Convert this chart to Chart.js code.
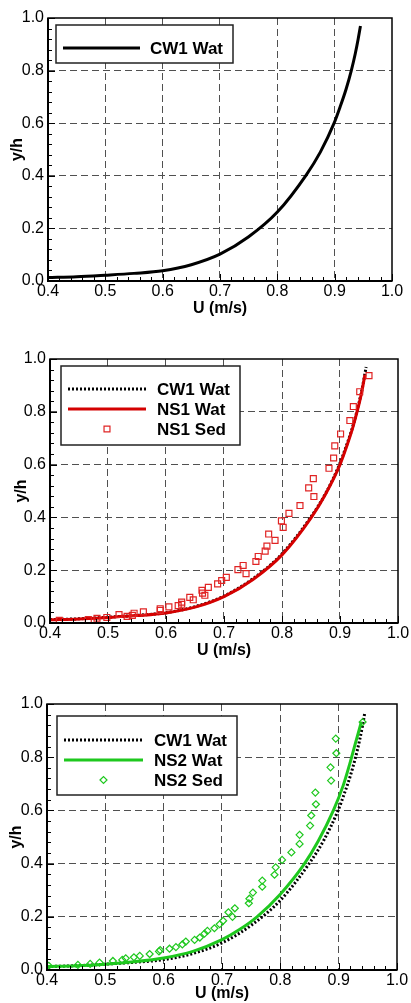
<!DOCTYPE html>
<html>
<head>
<meta charset="utf-8">
<script src="https://cdn.jsdelivr.net/npm/chart.js@4/dist/chart.umd.min.js"></script>
<style>
  html, body { margin: 0; padding: 0; background: #fff; }
  canvas { position: absolute; left: 0; }
</style>
</head>
<body>
<canvas id="grafica1" width="411" height="330" style="top:0px"></canvas>
<canvas id="grafica2" width="411" height="333" style="top:330px"></canvas>
<canvas id="grafica3" width="411" height="340" style="top:663px"></canvas>
<script>
// Datos: U (m/s) contra y/h
const cw1U = [0.400, 0.450, 0.500, 0.550, 0.600, 0.650, 0.700, 0.750, 0.800, 0.850, 0.875, 0.899, 0.910, 0.920, 0.929, 0.936, 0.941, 0.945];
const cw1Y = [0.013, 0.016, 0.022, 0.029, 0.039, 0.062, 0.102, 0.168, 0.262, 0.402, 0.490, 0.600, 0.665, 0.730, 0.800, 0.865, 0.920, 0.970];

const ns1WatU = [0.400, 0.450, 0.500, 0.550, 0.600, 0.650, 0.700, 0.750, 0.800, 0.850, 0.875, 0.900, 0.912, 0.922, 0.930, 0.937, 0.943];
const ns1WatY = [0.012, 0.015, 0.021, 0.028, 0.038, 0.060, 0.100, 0.165, 0.258, 0.398, 0.488, 0.600, 0.672, 0.740, 0.805, 0.870, 0.940];

const ns1SedU = [0.416, 0.466, 0.481, 0.498, 0.519, 0.533, 0.542, 0.545, 0.561, 0.590, 0.590, 0.605, 0.621, 0.627, 0.627, 0.641, 0.647, 0.662, 0.663, 0.667, 0.673, 0.689, 0.696, 0.704, 0.724, 0.733, 0.738, 0.755, 0.759, 0.771, 0.774, 0.777, 0.788, 0.799, 0.802, 0.812, 0.831, 0.846, 0.854, 0.855, 0.881, 0.889, 0.891, 0.901, 0.917, 0.923, 0.934, 0.950];
const ns1SedY = [0.010, 0.013, 0.018, 0.021, 0.032, 0.025, 0.029, 0.037, 0.042, 0.048, 0.054, 0.061, 0.066, 0.071, 0.079, 0.097, 0.088, 0.124, 0.113, 0.105, 0.135, 0.148, 0.161, 0.173, 0.202, 0.218, 0.187, 0.233, 0.252, 0.272, 0.291, 0.337, 0.313, 0.387, 0.362, 0.415, 0.445, 0.512, 0.547, 0.479, 0.586, 0.625, 0.671, 0.716, 0.767, 0.820, 0.876, 0.937];

const ns2WatU = [0.400, 0.450, 0.500, 0.550, 0.600, 0.650, 0.700, 0.730, 0.760, 0.800, 0.840, 0.865, 0.891, 0.908, 0.919, 0.929, 0.939];
const ns2WatY = [0.013, 0.016, 0.022, 0.031, 0.045, 0.070, 0.114, 0.152, 0.200, 0.285, 0.395, 0.485, 0.600, 0.695, 0.775, 0.855, 0.934];

const ns2SedU = [0.403, 0.453, 0.474, 0.490, 0.513, 0.529, 0.535, 0.549, 0.559, 0.576, 0.592, 0.594, 0.610, 0.621, 0.632, 0.638, 0.653, 0.662, 0.670, 0.675, 0.687, 0.696, 0.702, 0.711, 0.718, 0.722, 0.746, 0.747, 0.753, 0.769, 0.769, 0.790, 0.792, 0.803, 0.819, 0.833, 0.833, 0.851, 0.853, 0.861, 0.860, 0.887, 0.886, 0.896, 0.895, 0.941];
const ns2SedY = [0.016, 0.019, 0.023, 0.028, 0.034, 0.038, 0.044, 0.048, 0.053, 0.060, 0.070, 0.075, 0.080, 0.086, 0.096, 0.107, 0.113, 0.122, 0.137, 0.147, 0.157, 0.172, 0.185, 0.217, 0.200, 0.232, 0.251, 0.268, 0.291, 0.313, 0.336, 0.358, 0.386, 0.414, 0.442, 0.474, 0.508, 0.543, 0.581, 0.623, 0.667, 0.712, 0.762, 0.815, 0.870, 0.932];

// Rango de ejes
const xMin = 0.4, xMax = 1.0, xPaso = 0.1;
const yMin = 0.0, yMax = 1.0, yPaso = 0.2;

Chart.defaults.font.family = '"Liberation Sans", Arial, sans-serif';
Chart.defaults.color = '#000';

function puntos(us, ys) {
    return us.map((u, i) => ({ x: u, y: ys[i] }));
}

const colorRejilla = ctx => {
    const v = ctx.tick ? ctx.tick.value : 0;
    const extremo = ctx.scale.axis === 'x'
        ? (v <= xMin + 1e-6 || v >= xMax - 1e-6)
        : (v <= yMin + 1e-6 || v >= yMax - 1e-6);
    return extremo ? 'rgba(0,0,0,0)' : '#505050';
};

// Ejes con rejilla discontinua; el ancho/alto se fija para cuadrar el área de la gráfica
function ejes(anchoY, altoX, padTituloY) {
    return {
        x: {
            type: 'linear', min: xMin, max: xMax,
            ticks: { stepSize: xPaso, padding: 1, maxRotation: 0, autoSkip: false,
                     font: { size: 16 }, callback: v => v.toFixed(1) },
            grid: { drawTicks: false, color: colorRejilla, lineWidth: 1 },
            border: { display: false, dash: [7, 4] },
            title: { display: true, text: 'U (m/s)', font: { size: 16, weight: 'bold' }, padding: 0 },
            afterFit: s => { s.height = altoX; }
        },
        y: {
            type: 'linear', min: yMin, max: yMax,
            ticks: { stepSize: yPaso, padding: 4, font: { size: 16 }, callback: v => v.toFixed(1) },
            grid: { drawTicks: false, color: colorRejilla, lineWidth: 1 },
            border: { display: false, dash: [7, 4] },
            title: { display: true, text: 'y/h', font: { size: 16, weight: 'bold' }, padding: { top: padTituloY, bottom: 0 } },
            afterFit: s => { s.width = anchoY; }
        }
    };
}

// Marco y marcas menores hacia dentro (izquierda y abajo)
const marco = {
    id: 'marco',
    afterDraw(chart) {
        const { ctx, chartArea: a, scales: { x, y } } = chart;
        ctx.save();
        ctx.strokeStyle = '#000';
        ctx.lineWidth = 1;
        ctx.beginPath();
        for (let i = 0; i <= 30; i++) {
            const px = Math.round(x.getPixelForValue(xMin + i * 0.02)) + 0.5;
            const largo = i % 5 === 0 ? 7 : 4;
            ctx.moveTo(px, a.bottom);
            ctx.lineTo(px, a.bottom - largo);
        }
        for (let i = 0; i <= 25; i++) {
            const py = Math.round(y.getPixelForValue(yMin + i * 0.04)) + 0.5;
            const largo = i % 5 === 0 ? 7 : 4;
            ctx.moveTo(a.left, py);
            ctx.lineTo(a.left + largo, py);
        }
        ctx.stroke();
        ctx.lineWidth = 1.5;
        ctx.strokeRect(a.left, a.top, a.right - a.left, a.bottom - a.top);
        ctx.lineWidth = 2;
        ctx.beginPath();
        ctx.moveTo(a.left, a.top);
        ctx.lineTo(a.left, a.bottom);
        ctx.lineTo(a.right, a.bottom);
        ctx.stroke();
        ctx.restore();
    }
};

// Leyenda en caja dentro del área de la gráfica
const leyenda = {
    id: 'leyenda',
    afterDatasetsDraw(chart, args, o) {
        const ctx = chart.ctx;
        ctx.save();
        ctx.fillStyle = '#fff';
        ctx.fillRect(o.x, o.y, o.w, o.h);
        ctx.strokeStyle = '#222';
        ctx.lineWidth = 1.5;
        ctx.strokeRect(o.x, o.y, o.w, o.h);
        chart.data.datasets.forEach((ds, i) => {
            const fy = o.fila0 + i * o.paso;
            if (ds.showLine) {
                ctx.beginPath();
                ctx.strokeStyle = ds.borderColor;
                ctx.lineWidth = ds.borderWidth;
                ctx.setLineDash(ds.borderDash || []);
                ctx.moveTo(o.l0, fy);
                ctx.lineTo(o.l1, fy);
                ctx.stroke();
                ctx.setLineDash([]);
            } else {
                ctx.strokeStyle = ds.pointBorderColor;
                ctx.fillStyle = 'rgba(0,0,0,0)';
                ctx.lineWidth = ds.pointBorderWidth;
                Chart.helpers.drawPoint(ctx, { pointStyle: ds.pointStyle, radius: ds.pointRadius,
                    borderWidth: ds.pointBorderWidth, rotation: 0 }, (o.l0 + o.l1) / 2, fy);
            }
            ctx.fillStyle = '#000';
            ctx.font = 'bold 17px "Liberation Sans", Arial, sans-serif';
            ctx.textBaseline = 'middle';
            ctx.fillText(ds.label, o.tx, fy + 1);
        });
        ctx.restore();
    }
};

function linea(label, us, ys, color, ancho, dash, orden) {
    return { label, data: puntos(us, ys), showLine: true, borderColor: color, borderWidth: ancho,
             borderDash: dash, pointRadius: 0, cubicInterpolationMode: 'monotone', order: orden };
}

function marcas(label, us, ys, color, estilo, radio) {
    return { label, data: puntos(us, ys), showLine: false, pointStyle: estilo, pointRadius: radio,
             pointBorderColor: color, pointBackgroundColor: 'rgba(0,0,0,0)', pointBorderWidth: 1.2, order: 0 };
}

function grafica(id, datasets, pad, anchoY, altoX, padTituloY, caja) {
    const ctx = document.getElementById(id).getContext('2d');
    return new Chart(ctx, {
        type: 'scatter',
        data: { datasets },
        options: {
            responsive: false,
            animation: false,
            layout: { padding: pad },
            plugins: { legend: { display: false }, tooltip: { enabled: false }, leyenda: caja },
            scales: ejes(anchoY, altoX, padTituloY)
        },
        plugins: [leyenda, marco]
    });
}

grafica('grafica1',
    [linea('CW1 Wat', cw1U, cw1Y, '#000', 3, [], 2)],
    { top: 18, right: 19, bottom: 12, left: 0 }, 48, 37, 8,
    { x: 56, y: 25, w: 177, h: 38, fila0: 48, paso: 20, l0: 63, l1: 140, tx: 150 });

grafica('grafica2',
    [linea('CW1 Wat', cw1U, cw1Y, '#000', 3, [2, 2], 2),
     linea('NS1 Wat', ns1WatU, ns1WatY, '#d40000', 3, [], 1),
     marcas('NS1 Sed', ns1SedU, ns1SedY, '#e02424', 'rect', 4.2)],
    { top: 29, right: 13, bottom: 3, left: 0 }, 50, 37, 12,
    { x: 61, y: 36, w: 179, h: 79, fila0: 59, paso: 20, l0: 68, l1: 146, tx: 157 });

grafica('grafica3',
    [linea('CW1 Wat', cw1U, cw1Y, '#000', 3, [2, 2], 2),
     linea('NS2 Wat', ns2WatU, ns2WatY, '#1ec81e', 3, [], 1),
     marcas('NS2 Sed', ns2SedU, ns2SedY, '#1ec81e', 'rectRot', 3.5)],
    { top: 41, right: 14, bottom: 0, left: 0 }, 47, 33, 7,
    { x: 57, y: 53, w: 180, h: 79, fila0: 77, paso: 20, l0: 64, l1: 143, tx: 154 });
</script>
</body>
</html>
